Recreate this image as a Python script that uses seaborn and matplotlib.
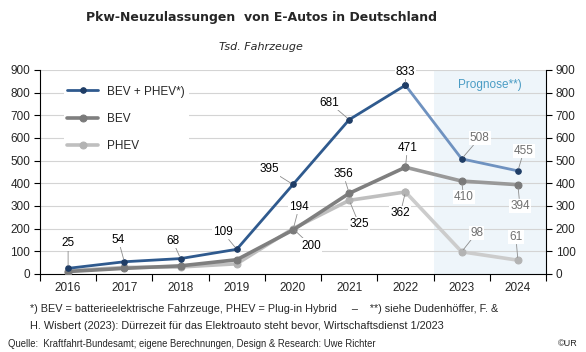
import numpy as np
import pandas as pd
import matplotlib
matplotlib.use("Agg")
import matplotlib.pyplot as plt
import seaborn as sns

years = [2016, 2017, 2018, 2019, 2020, 2021, 2022, 2023, 2024]
total = [25, 54, 68, 109, 395, 681, 833, 508, 455]
bev = [11, 25, 36, 63, 194, 356, 471, 410, 394]
phev = [14, 29, 31, 45, 200, 325, 362, 98, 61]
forecast_from = 2022

# label offsets in pixels (label position relative to point)
off_total = [(0, 25), (-6, 22), (-8, 18), (-14, 17), (-24, 15), (-20, 17), (0, 13), (18, 21), (6, 20)]
off_bev = {2020: (6, 23), 2021: (-6, 19), 2022: (2, 19), 2023: (2, -16), 2024: (2, -21)}
off_phev = {2020: (18, -17), 2021: (10, -24), 2022: (-5, -21), 2023: (15, 19), 2024: (-2, 23)}

sns.set_style("white")
plt.rcParams["font.family"] = ["Liberation Sans", "DejaVu Sans"]

fig, ax = plt.subplots(figsize=(5.86, 3.52), dpi=100)
fig.subplots_adjust(left=40/586, right=546/586, bottom=78/352, top=282/352)

ax.axvspan(2022.5, 2024.5, color="#eef5fa", zorder=0, lw=0)
for yv in range(100, 1000, 100):
    ax.axhline(yv, color="#d4d4d4", lw=0.8, zorder=0.5)

df = pd.DataFrame({"year": years, "total": total, "bev": bev, "phev": phev})
hist = df[df.year <= forecast_from]
prog = df[df.year >= forecast_from]

styles = [
    ("phev", "#bfbfbf", "#cccccc", "#b3b3b3", 2.6, 5, "PHEV"),
    ("bev", "#7f7f7f", "#999999", "#7a7a7a", 2.6, 5, "BEV"),
    ("total", "#2f5a8e", "#6f92c0", "#1f3d66", 2.0, 4, "BEV + PHEV*)"),
]
for col, c_hist, c_prog, c_mark, lw, ms, lab in styles:
    sns.lineplot(data=prog, x="year", y=col, ax=ax, color=c_prog, lw=lw,
                 marker="o", markersize=ms, markerfacecolor=c_mark,
                 markeredgecolor=c_mark, zorder=3)
    sns.lineplot(data=hist, x="year", y=col, ax=ax, color=c_hist, lw=lw,
                 marker="o", markersize=ms, markerfacecolor=c_mark,
                 markeredgecolor=c_mark, zorder=4, label=lab)

def put(x, v, off, color):
    ax.annotate(str(v), (x, v), xytext=off, textcoords="offset pixels",
                ha="center", va="center", fontsize=8.5, color=color, zorder=6,
                bbox=dict(boxstyle="square,pad=0.1", fc="white", ec="none"),
                arrowprops=dict(arrowstyle="-", color="#8c8c8c", lw=0.6,
                                shrinkA=0, shrinkB=2))

for i, y in enumerate(years):
    col = "black" if y <= forecast_from else "#707070"
    put(y, total[i], off_total[i], col)
    if y in off_bev:
        put(y, bev[i], off_bev[y], col)
    if y in off_phev:
        put(y, phev[i], off_phev[y], col)

ax.text(2023.5, 835, "Prognose**)", ha="center", va="center", fontsize=8.5,
        color="#4a9cc4", zorder=6)

h, l = ax.get_legend_handles_labels()
leg = ax.legend(h[::-1], l[::-1], loc="upper left", bbox_to_anchor=(0.035, 0.97),
                frameon=True, fontsize=8.5, handlelength=2.6, labelspacing=1.3,
                borderpad=0.3)
leg.get_frame().set_facecolor("white")
leg.get_frame().set_edgecolor("none")
leg.get_frame().set_alpha(1)
leg.set_zorder(5)

ax.set_xlim(2015.5, 2024.5)
ax.set_ylim(0, 900)
ax.set_xticks(years)
ax.set_xticklabels([str(y) for y in years])
ax.set_xticks(np.arange(2015.5, 2025, 1), minor=True)
ax.set_yticks(range(0, 1000, 100))
ax.tick_params(axis="x", which="major", length=0, pad=6, labelsize=8.5)
ax.tick_params(axis="x", which="minor", length=5, width=0.8, color="black", direction="out", bottom=True)
ax.tick_params(axis="y", length=4, width=0.8, color="black", direction="out", labelsize=8.5,
               left=True, right=True, labelright=True, pad=3)
ax.set_xlabel("")
ax.set_ylabel("")
for s in ["left", "right", "bottom"]:
    ax.spines[s].set_visible(True)
    ax.spines[s].set_color("black")
    ax.spines[s].set_linewidth(0.8)
ax.spines["top"].set_visible(False)

fig.text(261/586, 1 - 18/352, "Pkw-Neuzulassungen  von E-Autos in Deutschland", ha="center",
         va="center", fontsize=9, fontweight="bold", family="DejaVu Sans")
fig.text(261/586, 1 - 47/352, "Tsd. Fahrzeuge", ha="center", va="center", fontsize=8,
         style="italic", family="DejaVu Sans")
fig.text(30/586, 1 - 309/352, "*) BEV = batterieelektrische Fahrzeuge, PHEV = Plug-in Hybrid     \u2013    **) siehe Dudenh\u00f6ffer, F. &",
         ha="left", va="center", fontsize=7.8)
fig.text(30/586, 1 - 326/352, "H. Wisbert (2023): D\u00fcrrezeit f\u00fcr das Elektroauto steht bevor, Wirtschaftsdienst 1/2023",
         ha="left", va="center", fontsize=7.8)
fig.text(8/586, 1 - 344/352, "Quelle:  Kraftfahrt-Bundesamt; eigene Berechnungen, Design & Research: Uwe Richter",
         ha="left", va="center", fontsize=6.85)
fig.text(578/586, 1 - 344/352, "\u00a9UR", ha="right", va="center", fontsize=6.5)

fig.savefig("out.png", dpi=100)
